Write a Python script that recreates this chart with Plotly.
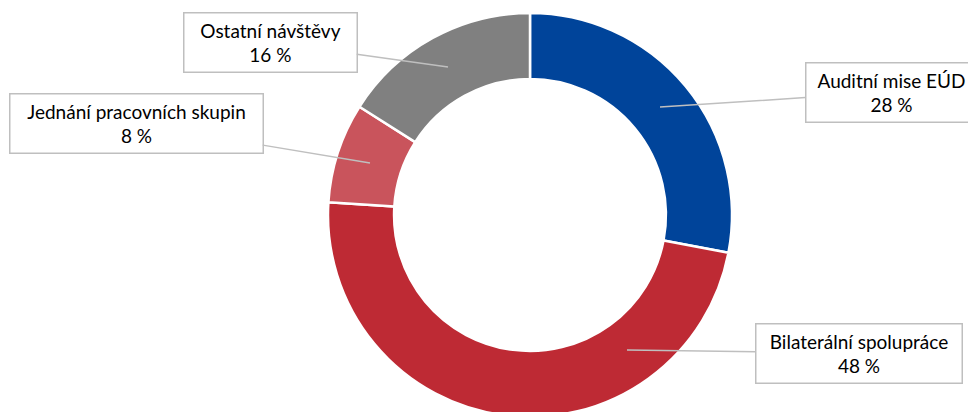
import plotly.graph_objects as go

categories = ["Auditní mise EÚD", "Bilaterální spolupráce", "Jednání pracovních skupin", "Ostatní návštěvy"]
values = [28, 48, 8, 16]
colors = ["#00449A", "#BE2A34", "#C9545C", "#808080"]

# figure is slightly taller than the window so the ring is cut at the bottom like the reference
W, H = 968, 422
CX, CY, R = 530, 215, 202

# label layout (pixel positions from top-left): leader tip, box centre, box width
tips = [(660, 107), (627, 350), (370, 163), (448, 67)]
boxes = [(891, 92), (859, 353), (136, 124), (270, 42)]
box_w = [172, 207, 254, 174]

fig = go.Figure()
fig.add_trace(go.Pie(
    labels=categories,
    values=values,
    sort=False,
    direction="clockwise",
    rotation=0,
    hole=0.673,
    marker=dict(colors=colors, line=dict(color="white", width=2.5)),
    textinfo="none",
    hoverinfo="label+percent",
    showlegend=False,
    domain=dict(x=[(CX - R) / W, (CX + R) / W], y=[1 - (CY + R) / H, 1 - (CY - R) / H]),
))

total = sum(values)
for cat, v, (tx, ty), (bx, by), bw in zip(categories, values, tips, boxes, box_w):
    pct = round(100 * v / total)
    fig.add_annotation(
        x=tx / W, y=1 - ty / H, xref="paper", yref="paper",
        ax=bx - tx, ay=by - ty, axref="pixel", ayref="pixel",
        text=f"{cat}<br>{pct} %",
        showarrow=True, arrowhead=0, arrowwidth=1.5, arrowcolor="#BFBFBF",
        bordercolor="#BFBFBF", borderwidth=1.5, bgcolor="white",
        width=bw - 4, height=56, align="center", valign="middle",
        font=dict(family="Lato, Carlito, Calibri, sans-serif", size=19, color="#000000"),
    )

fig.update_layout(
    width=W, height=H,
    margin=dict(l=0, r=0, t=0, b=0),
    paper_bgcolor="white",
    plot_bgcolor="white",
)

fig.write_html(
    "out.html",
    config={"displayModeBar": False},
    post_script=(
        "document.body.style.margin='0';"
        "document.body.style.overflow='hidden';"
        "document.documentElement.style.overflow='hidden';"
    ),
)
